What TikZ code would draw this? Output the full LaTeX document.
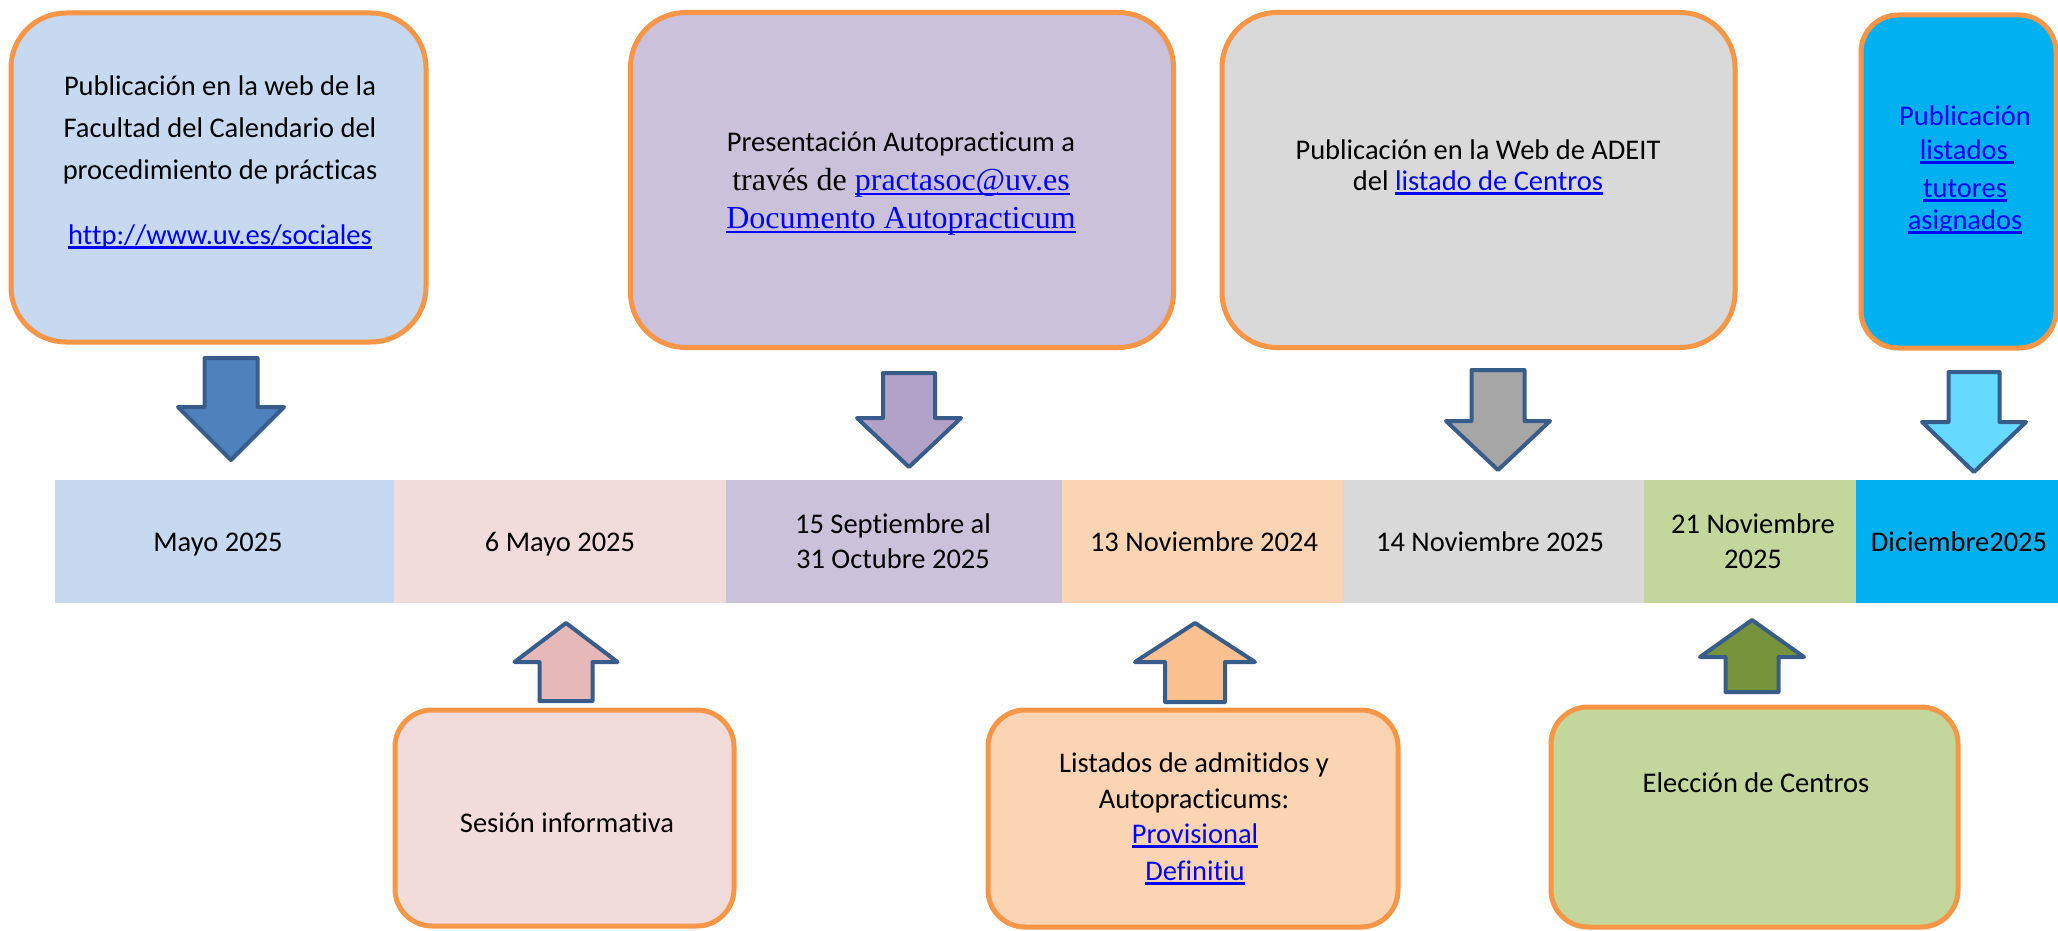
\documentclass[tikz,border=0pt]{standalone}
\usepackage{fontspec}
\setmainfont{Carlito}[Ligatures={NoCommon}]
\newfontfamily\tnr{Liberation Serif}
\definecolor{cblue}{HTML}{C6D9F1}
\definecolor{cpink}{HTML}{F2DCDB}
\definecolor{clav}{HTML}{CCC1DA}
\definecolor{cpeach}{HTML}{FBD4B4}
\definecolor{cgrey}{HTML}{D9D9D9}
\definecolor{cgreen}{HTML}{C3D69B}
\definecolor{ccyan}{HTML}{00B0F0}
\definecolor{borange}{HTML}{F79646}
\definecolor{aline}{HTML}{385D8A}
\definecolor{a1}{HTML}{4F81BD}
\definecolor{a2}{HTML}{B3A2C7}
\definecolor{a3}{HTML}{A6A6A6}
\definecolor{a4}{HTML}{66D9FF}
\definecolor{a5}{HTML}{E6B9B8}
\definecolor{a6}{HTML}{FAC090}
\definecolor{a7}{HTML}{77933C}
\definecolor{linkblue}{HTML}{0000FF}
\newcommand\lnk[1]{{\color{linkblue}\setbox0=\hbox{#1}\rlap{\rule[-0.16em]{\wd0}{0.08em}}\box0}}
\newcommand\blockarrow[7]{\draw[arrowst, fill=#7] (#1-#5,#2) -- (#1+#5,#2) -- (#1+#5,#3) -- (#1+#6,#3) -- (#1,#4) -- (#1-#6,#3) -- (#1-#5,#3) -- cycle;}
\tikzset{
  evbox/.style={draw=borange, line width=5pt, rounded corners=55pt, inner sep=0pt},
  smbox/.style={draw=borange, line width=5pt, rounded corners=37pt, inner sep=0pt},
  cell/.style={draw=none, anchor=north west, inner sep=0pt, minimum height=123pt},
  arrowst/.style={draw=aline, line width=4pt, line join=round},
  txt/.style={font=\fontsize{28.5}{34}\selectfont, inner sep=0pt, anchor=base},
  ttxt/.style={font=\tnr\fontsize{32}{37}\selectfont, inner sep=0pt, anchor=base},
}
\begin{document}
\begin{tikzpicture}[x=1pt,y=-1pt]
\useasboundingbox (0,0) rectangle (2058,931);
\fill[white] (0,0) rectangle (2058,931);
% top boxes
\node[evbox, fill=cblue, minimum width=415pt, minimum height=329pt] (b1) at (218.5,177.5) {};
\node[evbox, fill=clav, minimum width=543pt, minimum height=335pt] (b2) at (902,180) {};
\node[evbox, fill=cgrey, minimum width=513pt, minimum height=335pt] (b3) at (1478.5,180) {};
\node[smbox, fill=ccyan, minimum width=195pt, minimum height=333pt] (b4) at (1958.5,181.5) {};
% top box texts
\node[txt] (t1a) at (220,96) {Publicación en la web de la};
\node[txt] (t1b) at (220,137.5) {Facultad del Calendario del};
\node[txt] (t1c) at (220,179) {procedimiento de prácticas};
\node[txt] (t1d) at (220,244) {\lnk{http://www.uv.es/sociales}};
\node[txt] (t2a) at (901,152) {Presentación Autopracticum a};
\node[ttxt] (t2b) at (901,190) {través de \lnk{practasoc@uv.es}};
\node[ttxt] (t2c) at (901,228) {\lnk{Documento Autopracticum}};
\node[txt] (t3a) at (1478,159) {Publicación en la Web de ADEIT};
\node[txt] (t3b) at (1478,190) {del \lnk{listado de Centros}};
\node[txt, text=linkblue] (t4a) at (1965,126) {Publicación};
\node[txt] (t4b) at (1967,159) {\lnk{listados\ }};
\node[txt] (t4c) at (1965,197) {\lnk{tutores}};
\node[txt] (t4d) at (1965,229) {\lnk{asignados}};
% down arrows
\blockarrow{231}{358}{407}{460}{26.5}{53}{a1}
\blockarrow{909}{373}{418}{467}{26}{52}{a2}
\blockarrow{1498}{370}{421}{470}{26.5}{52}{a3}
\blockarrow{1974}{372}{422}{472}{25.5}{52}{a4}
% timeline cells
\node[cell, fill=cblue, minimum width=339.5pt] (d1) at (55,480) {};
\node[cell, fill=cpink, minimum width=332.5pt] (d2) at (394,480) {};
\node[cell, fill=clav, minimum width=336.5pt] (d3) at (726,480) {};
\node[cell, fill=cpeach, minimum width=281.5pt] (d4) at (1062,480) {};
\node[cell, fill=cgrey, minimum width=301.5pt] (d5) at (1343,480) {};
\node[cell, fill=cgreen, minimum width=212.5pt] (d6) at (1644,480) {};
\node[cell, fill=ccyan, minimum width=202pt] (d7) at (1856,480) {};
\node[txt] (e1) at (218,551) {Mayo 2025};
\node[txt] (e2) at (560,551) {6 Mayo 2025};
\node[txt] (e3a) at (893,533) {15 Septiembre al};
\node[txt] (e3b) at (893,568) {31 Octubre 2025};
\node[txt] (e4) at (1204,551) {13 Noviembre 2024};
\node[txt] (e5) at (1490,551) {14 Noviembre 2025};
\node[txt] (e6a) at (1753,533) {21 Noviembre};
\node[txt] (e6b) at (1753,568) {2025};
\node[txt] (e7) at (1959,551) {Diciembre2025};
% up arrows
\blockarrow{566}{701}{662}{623}{26.5}{51.5}{a5}
\blockarrow{1195}{702}{662}{623}{30}{60}{a6}
\blockarrow{1752}{692}{657}{620}{26.5}{52}{a7}
% bottom boxes
\node[smbox, fill=cpink, minimum width=339pt, minimum height=216pt] (c1) at (564.5,818) {};
\node[smbox, fill=cpeach, minimum width=410pt, minimum height=217pt] (c2) at (1193,818.5) {};
\node[smbox, fill=cgreen, minimum width=407pt, minimum height=220pt] (c3) at (1754.5,817) {};
\node[txt] (f1) at (567,832) {Sesión informativa};
\node[txt] (f2a) at (1194,772) {Listados de admitidos y};
\node[txt] (f2b) at (1194,808) {Autopracticums:};
\node[txt] (f2c) at (1195,843) {\lnk{Provisional}};
\node[txt] (f2d) at (1195,880) {\lnk{Definitiu}};
\node[txt] (f3) at (1756,792) {Elección de Centros};
\end{tikzpicture}
\end{document}
